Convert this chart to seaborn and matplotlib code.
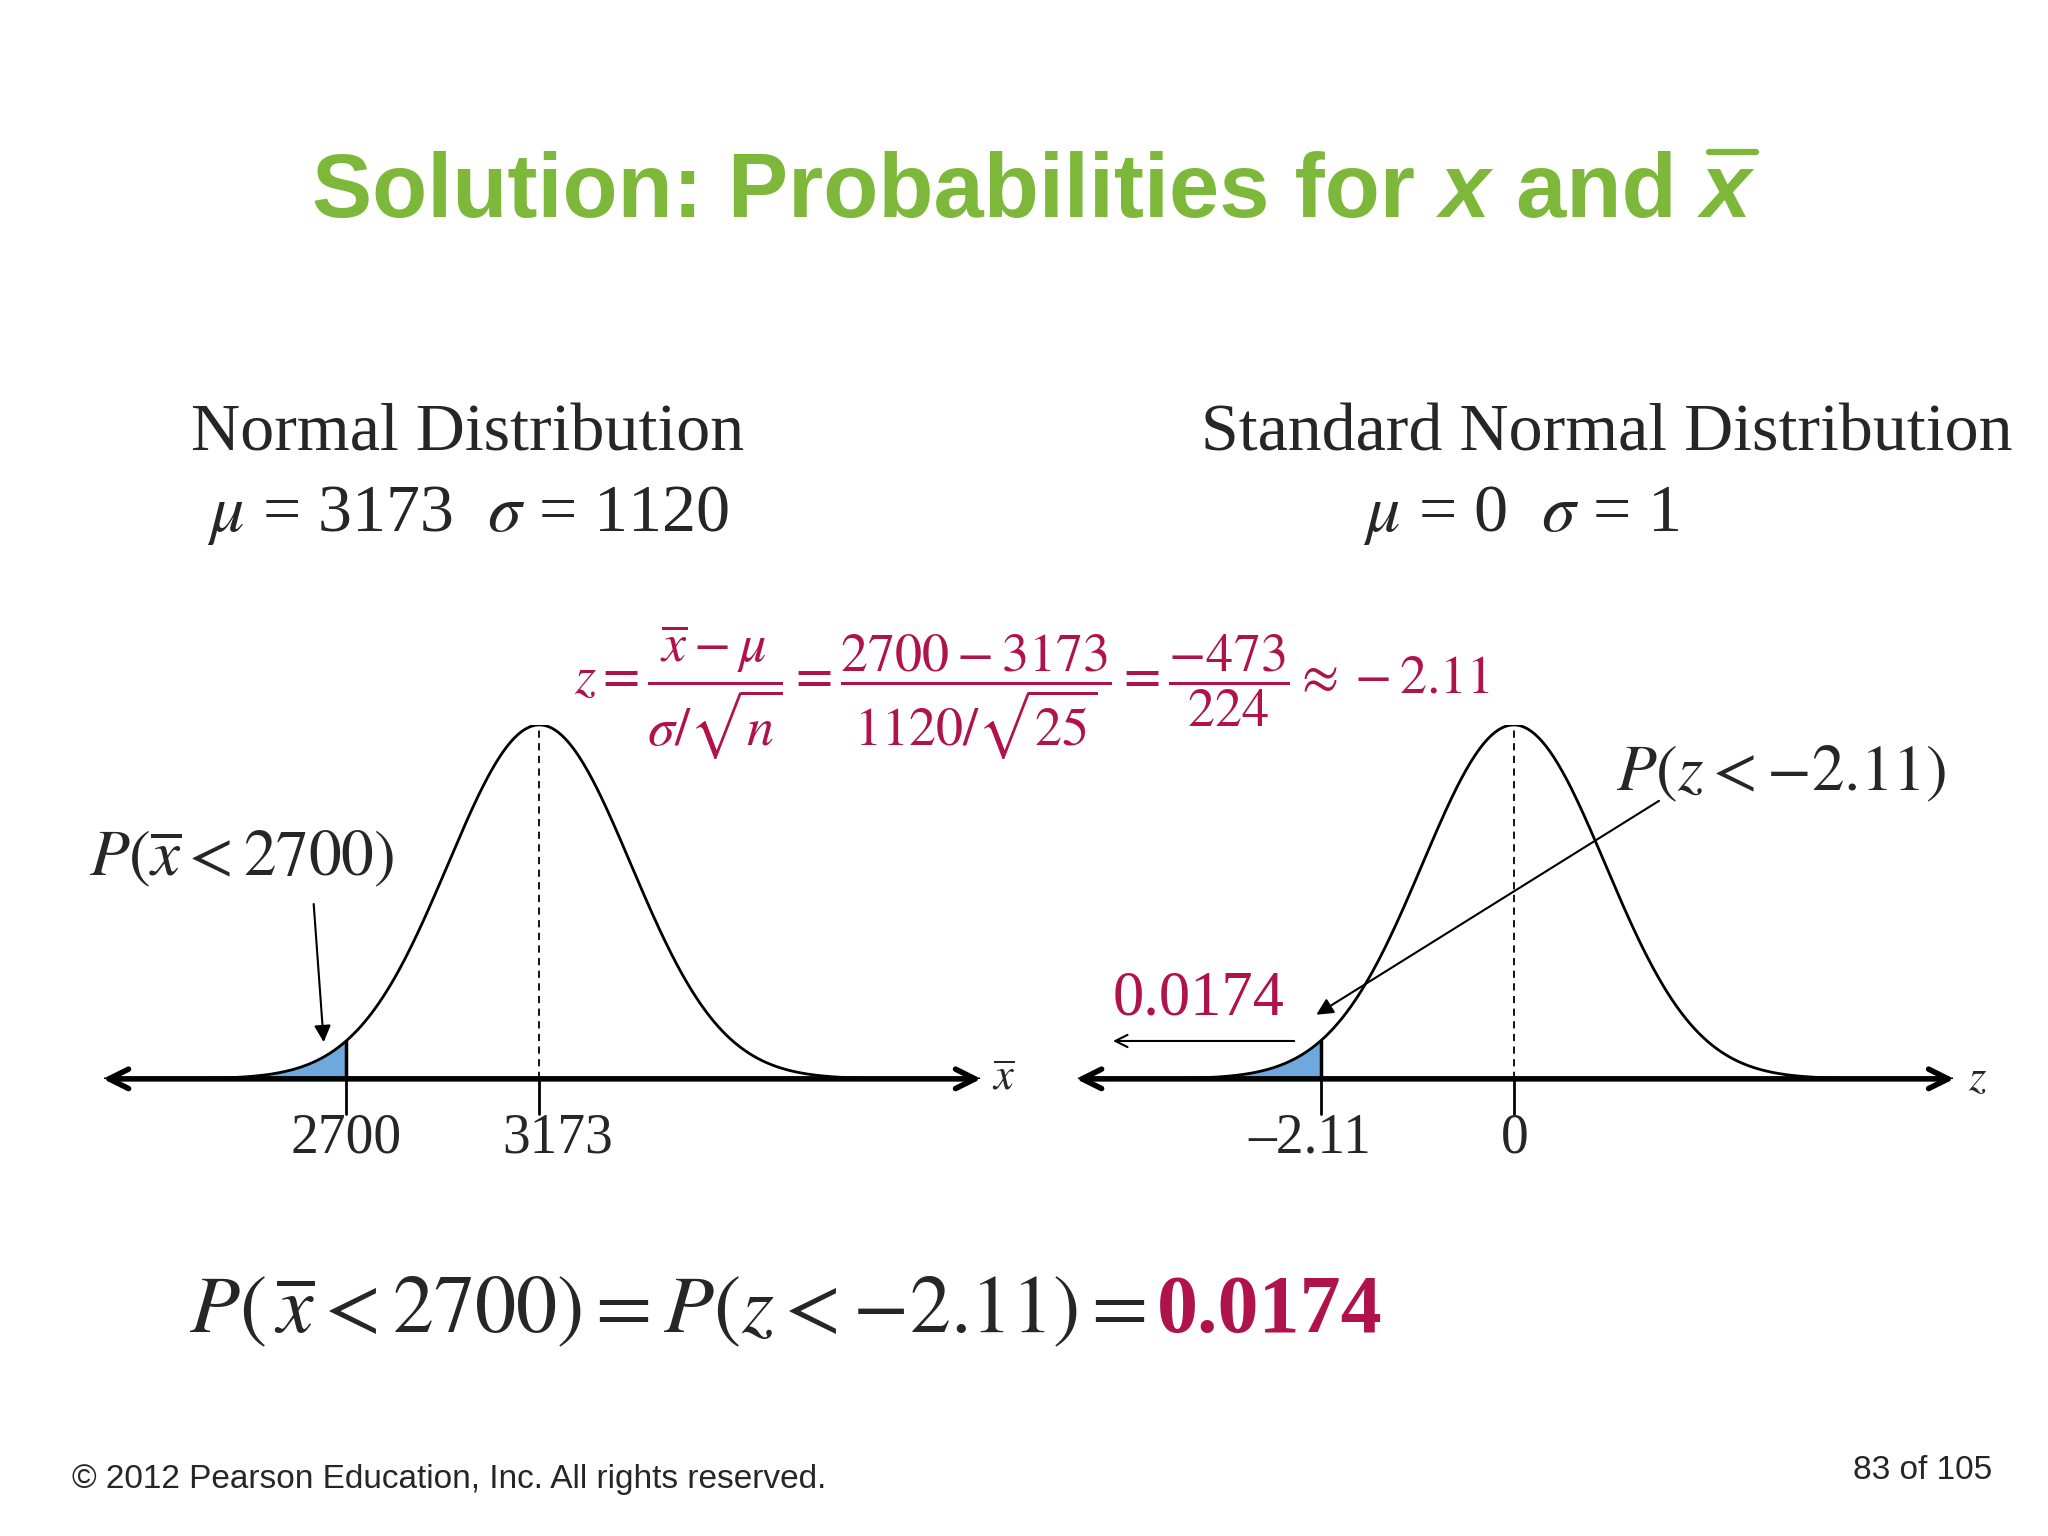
import numpy as np
import pandas as pd
import matplotlib
matplotlib.use("Agg")
import matplotlib.pyplot as plt
import seaborn as sns

sns.set_theme(style="white")
plt.rcParams["font.family"] = ["Liberation Serif", "DejaVu Serif"]
plt.rcParams["mathtext.fontset"] = "stix"

# chart values
mu_x, sigma_x, n = 3173, 1120, 25
x_cut = 2700
z_cut = -2.11
p_val = "0.0174"
left_ticks = [2700, 3173]
right_ticks = [-2.11, 0]

RED = "#B0124A"
GREEN = "#7DB83A"
BLUE = "#6FA8DC"
W, H = 1568, 1176  # reference pixel grid


def fx(x):
    return x / W


def fy(y):
    return 1 - y / H


fig = plt.figure(figsize=(20.48, 15.36), dpi=100)
fig.patch.set_facecolor("white")


def panel(x0, x1, cx, mean, sd, cut):
    ax = fig.add_axes([fx(x0), fy(826), fx(x1) - fx(x0), (826 - 555) / H])
    scale = 70.0 / sd  # px per unit
    lo = mean - (cx - x0) / scale
    hi = mean + (x1 - cx) / scale
    xs = np.linspace(lo, hi, 600)
    dens = np.exp(-0.5 * ((xs - mean) / sd) ** 2)
    df = pd.DataFrame({"x": xs, "y": dens})
    sns.lineplot(data=df, x="x", y="y", ax=ax, color="black", lw=2)
    m = df["x"] <= cut
    ax.fill_between(df["x"][m], 0, df["y"][m], color=BLUE, lw=0)
    hcut = np.exp(-0.5 * ((cut - mean) / sd) ** 2)
    ax.plot([cut, cut], [0, hcut], color="black", lw=2.5)
    ax.plot([cut, cut], [0, -0.1], color="black", lw=2, clip_on=False)
    ax.plot([mean, mean], [0, 1], color="black", lw=1.3, ls=(0, (4, 3)))
    ax.plot([mean, mean], [0, -0.1], color="black", lw=2, clip_on=False)
    ax.annotate("", xy=(lo - 0.005 * (hi - lo), 0), xytext=(hi + 0.005 * (hi - lo), 0),
                arrowprops=dict(arrowstyle="<->", lw=4, color="black", mutation_scale=35),
                annotation_clip=False)
    ax.set_xlim(lo, hi)
    ax.set_ylim(0, 1)
    ax.axis("off")
    return ax


axL = panel(80, 750, 413, mu_x, sigma_x / np.sqrt(n), x_cut)
axR = panel(825, 1495, 1159, 0, 1, z_cut)


def t(x, y, s, size, **kw):
    return fig.text(fx(x), fy(y), s, fontsize=size, **kw)


# title in pieces
renderer = fig.canvas.get_renderer()
parts = [("Solution: Probabilities for ", "normal"), ("x", "italic"), (" and ", "normal"), ("x", "italic")]
objs = []
for s, st in parts:
    o = fig.text(0, fy(148), s, fontsize=65, fontweight="bold", style=st, color=GREEN,
                 family=["Liberation Sans", "DejaVu Sans"], va="center")
    objs.append(o)
widths = [o.get_window_extent(renderer).width for o in objs]
total = sum(widths)
start = fig.bbox.width * fx(790) - total / 2
for o, w in zip(objs, widths):
    o.set_x(start / fig.bbox.width)
    start += w
bb = objs[-1].get_window_extent(renderer)
fig.add_artist(plt.Line2D([bb.x0 / fig.bbox.width + 0.004, bb.x1 / fig.bbox.width + 0.002],
                          [fy(116), fy(116)], color=GREEN, lw=4.5))

t(358, 332, "Normal Distribution", 49, ha="center", va="center")
t(358, 395, rf"$\mu$ = {mu_x}  $\sigma$ = {sigma_x}", 49, ha="center", va="center")
t(1230, 332, "Standard Normal Distribution", 49, ha="center", va="center")
t(1165, 395, r"$\mu$ = 0  $\sigma$ = 1", 49, ha="center", va="center")

t(790, 530, r"$z=\dfrac{\overline{x}-\mu}{\sigma/\sqrt{n}}=\dfrac{2700-3173}{1120/\sqrt{25}}"
            r"=\dfrac{-473}{224}\approx -2.11$", 39, ha="center", va="center", color=RED)

t(68, 658, r"$P(\overline{x}<2700)$", 47, ha="left", va="center")
fig.add_artist(matplotlib.patches.FancyArrowPatch((fx(240), fy(690)), (fx(248), fy(800)),
               transform=fig.transFigure, arrowstyle="-|>", mutation_scale=25, lw=1.5, color="black"))
t(1237, 593, r"$P(z<-2.11)$", 47, ha="left", va="center")
fig.add_artist(matplotlib.patches.FancyArrowPatch((fx(1272), fy(612)), (fx(1006), fy(778)),
               transform=fig.transFigure, arrowstyle="-|>", mutation_scale=25, lw=1.5, color="black"))
t(852, 765, p_val, 45, ha="left", va="center", color=RED)
fig.add_artist(matplotlib.patches.FancyArrowPatch((fx(993), fy(797)), (fx(850), fy(797)),
               transform=fig.transFigure, arrowstyle="->", mutation_scale=22, lw=1.5, color="black"))

for v, px in zip(left_ticks, [265, 427]):
    t(px, 872, f"{v}", 40, ha="center", va="center")
t(1003, 872, "\u20132.11", 40, ha="center", va="center")
t(1160, 872, "0", 40, ha="center", va="center")
t(768, 826, r"$\overline{x}$", 32, ha="center", va="center")
t(1514, 826, r"$z$", 32, ha="center", va="center")

bl = t(145, 1005, r"$P(\,\overline{x}<2700)=P(z<-2.11)=$", 59, ha="left", va="center")
bb = bl.get_window_extent(renderer)
fig.text(bb.x1 / fig.bbox.width + 0.005, fy(1005), p_val, fontsize=59, fontweight="bold",
         color=RED, ha="left", va="center")

t(55, 1133, "\u00a9 2012 Pearson Education, Inc. All rights reserved.", 24,
  family=["Liberation Sans", "DejaVu Sans"], ha="left", va="center")
t(1525, 1126, "83 of 105", 24, family=["Liberation Sans", "DejaVu Sans"], ha="right", va="center")

fig.savefig("out.png", dpi=100, facecolor="white")
